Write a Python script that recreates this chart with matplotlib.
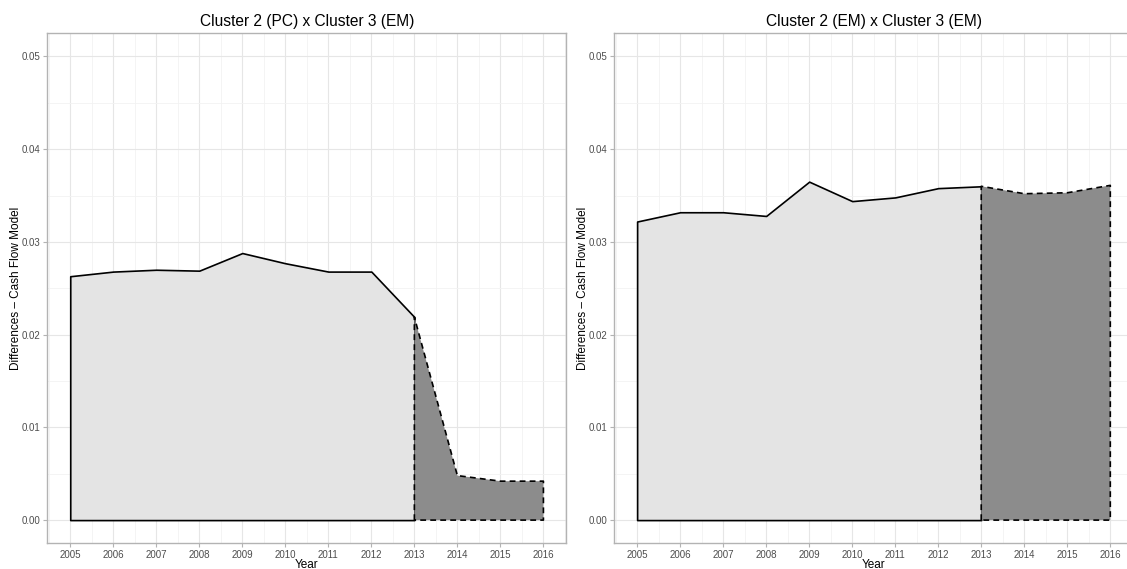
import matplotlib
matplotlib.use("Agg")
import matplotlib.pyplot as plt
from matplotlib.ticker import MultipleLocator

plt.rcParams['font.family'] = ['Liberation Sans', 'DejaVu Sans']

years = [2005, 2006, 2007, 2008, 2009, 2010, 2011, 2012, 2013, 2014, 2015, 2016]
split_year = 2013

# Cluster 2 (PC) x Cluster 3 (EM)
pc_em = [0.0263, 0.0268, 0.0270, 0.0269, 0.0288, 0.0277, 0.0268, 0.0268,
         0.0219, 0.0048, 0.0042, 0.0042]
# Cluster 2 (EM) x Cluster 3 (EM)
em_em = [0.0322, 0.0332, 0.0332, 0.0328, 0.0365, 0.0344, 0.0348, 0.0358,
         0.0360, 0.0352, 0.0353, 0.0361]

titles = ["Cluster 2 (PC) x Cluster 3 (EM)", "Cluster 2 (EM) x Cluster 3 (EM)"]
series = [pc_em, em_em]

light = "#e4e4e4"
dark = "#8c8c8c"
border = "#b3b3b3"

fig = plt.figure(figsize=(11.27, 5.69), dpi=100)
positions = [[0.0421, 0.0452, 0.4603, 0.8963],
             [0.5451, 0.0452, 0.4603, 0.8963]]

for pos, title, vals in zip(positions, titles, series):
    ax = fig.add_axes(pos)
    k = years.index(split_year)
    ax.fill_between(years[:k + 1], vals[:k + 1], 0, facecolor=light,
                    edgecolor="black", linewidth=1.2, zorder=3)
    ax.fill_between(years[k:], vals[k:], 0, facecolor=dark,
                    edgecolor="black", linewidth=1.2,
                    linestyle=(0, (3.5, 2.5)), zorder=4)

    ax.set_xlim(2004.47, 2016.53)
    ax.set_ylim(-0.0025, 0.0525)
    ax.set_xticks(years)
    ax.xaxis.set_minor_locator(MultipleLocator(0.5))
    ax.yaxis.set_major_locator(MultipleLocator(0.01))
    ax.yaxis.set_minor_locator(MultipleLocator(0.005))
    ax.set_yticklabels([f"{t:.2f}" for t in ax.get_yticks()])

    ax.grid(which="major", color="#e6e6e6", linewidth=0.8, zorder=0)
    ax.grid(which="minor", color="#f2f2f2", linewidth=0.6, zorder=0)
    ax.set_axisbelow(True)

    for s in ax.spines.values():
        s.set_color(border)
        s.set_linewidth(1.0)
    ax.tick_params(which="major", length=3, width=0.8, color=border,
                   labelsize=7, labelcolor="#4d4d4d", pad=2)
    ax.tick_params(which="minor", length=0)

    ax.set_title(title, fontsize=11.2, pad=5)
    ax.set_xlabel("Year", fontsize=8.5, labelpad=-1)
    ax.set_ylabel("Differences \u2013 Cash Flow Model", fontsize=8.5, labelpad=0)

fig.savefig("out.png", dpi=100)
